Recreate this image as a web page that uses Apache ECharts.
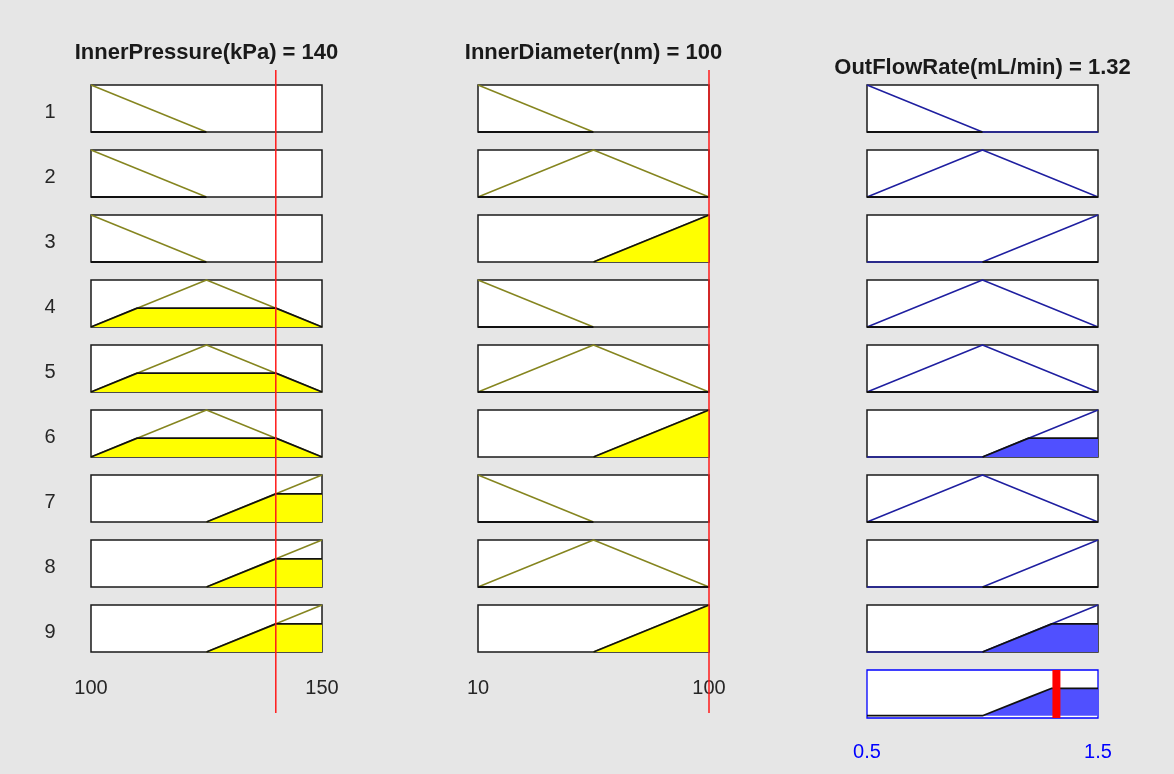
<!DOCTYPE html>
<html>
<head>
<meta charset="utf-8">
<script src="https://cdn.jsdelivr.net/npm/echarts@6/dist/echarts.min.js"></script>
<style>
html,body{margin:0;padding:0;background:#e6e6e6;}
#chart{width:1174px;height:774px;}
</style>
</head>
<body>
<div id="chart"></div>
<script>
// ---------- DATA ----------
const varNames = ['InnerPressure(kPa)', 'InnerDiameter(nm)', 'OutFlowRate(mL/min)'];
const pressureRange = [100, 150];
const diameterRange = [10, 100];
const flowRange = [0.5, 1.5];
// triangular membership functions [a, b, c] : Low, Medium, High
const pressureMF = [[75, 100, 125], [100, 125, 150], [125, 150, 175]];
const diameterMF = [[-35, 10, 55], [10, 55, 100], [55, 100, 145]];
const flowMF = [[0, 0.5, 1], [0.5, 1, 1.5], [1, 1.5, 2]];
// rule base (index into MF lists)
const ruleNumbers = [1, 2, 3, 4, 5, 6, 7, 8, 9];
const ruleIn1 = [0, 0, 0, 1, 1, 1, 2, 2, 2];
const ruleIn2 = [0, 1, 2, 0, 1, 2, 0, 1, 2];
const ruleOut = [0, 1, 2, 1, 1, 2, 1, 2, 2];
// degrees
const in1Degree = [0, 0, 0, 0.4, 0.4, 0.4, 0.6, 0.6, 0.6];
const in2Degree = [0, 0, 1, 0, 0, 1, 0, 0, 1];
const ruleStrength = [0, 0, 0, 0, 0, 0.4, 0, 0, 0.6];
const inputValues = [140, 100];
const outputValue = 1.32;
const tickValues = [[100, 150], [10, 100], [0.5, 1.5]];

// ---------- LAYOUT / STYLE ----------
const colLeft = [91, 478, 867];
const colW = 231;
const rowTop0 = 85, rowStep = 65, boxH = 47;
const FONT = 'Liberation Sans, Arial, Helvetica, sans-serif';
const inLineColor = '#85851f';
const outLineColor = '#1f1fa0';
const inFill = '#ffff00';
const outFill = '#5050ff';

function tri(x, p) {
  const [a, b, c] = p;
  const l = b === a ? 1 : (x - a) / (b - a);
  const r = c === b ? 1 : (c - x) / (c - b);
  return Math.max(0, Math.min(l, r));
}
function uniqSorted(xs, lo, hi) {
  const s = xs.filter(x => x >= lo - 1e-9 && x <= hi + 1e-9).map(x => Math.round(x * 1e6) / 1e6);
  return Array.from(new Set(s)).sort((a, b) => a - b);
}
function mfLine(p, range, full) {
  const lo = full ? range[0] : Math.max(range[0], p[0]);
  const hi = full ? range[1] : Math.min(range[1], p[2]);
  return uniqSorted([range[0], range[1], p[0], p[1], p[2]], lo, hi).map(x => [x, tri(x, p)]);
}
function clipped(p, range, d) {
  const lo = Math.max(range[0], p[0]);
  const hi = Math.min(range[1], p[2]);
  const xs = uniqSorted([lo, hi, p[1], p[0] + d * (p[1] - p[0]), p[2] - d * (p[2] - p[1])], lo, hi);
  return xs.map(x => [x, Math.min(tri(x, p), d)]);
}
function aggregate() {
  let xs = [flowRange[0], flowRange[1]];
  ruleOut.forEach((o, i) => {
    const p = flowMF[o], d = ruleStrength[i];
    xs.push(p[0], p[1], p[2], p[0] + d * (p[1] - p[0]), p[2] - d * (p[2] - p[1]));
  });
  xs = uniqSorted(xs, flowRange[0], flowRange[1]);
  return xs.map(x => [x, Math.max(...ruleOut.map((o, i) => Math.min(tri(x, flowMF[o]), ruleStrength[i])))]);
}

const grids = [], xAxes = [], yAxes = [], series = [], titles = [];
const ranges = [pressureRange, diameterRange, flowRange];
const mfs = [pressureMF, diameterMF, flowMF];

function addGrid(g, xa, ya) {
  const idx = grids.length;
  grids.push(g);
  xAxes.push(Object.assign({ type: 'value', gridIndex: idx }, xa));
  yAxes.push(Object.assign({ type: 'value', gridIndex: idx, min: 0, max: 1, show: false }, ya));
  return idx;
}
function hiddenX(range) {
  return { min: range[0], max: range[1], show: false };
}
function labelX(range, ticks, color, margin) {
  return {
    min: range[0], max: range[1], show: true,
    axisLine: { show: false }, axisTick: { show: false }, splitLine: { show: false },
    axisLabel: {
      show: true, customValues: ticks, showMinLabel: true, showMaxLabel: true,
      color: color, fontSize: 20, fontFamily: FONT, margin: margin
    }
  };
}
function lineSeries(idx, data, color, width, fill, z) {
  const s = {
    type: 'line', xAxisIndex: idx, yAxisIndex: idx, data: data,
    symbol: 'none', showSymbol: false, silent: true, animation: false, clip: false,
    lineStyle: { color: color, width: width }, z: z
  };
  if (fill) s.areaStyle = { color: fill, opacity: 1 };
  return s;
}

for (let r = 0; r < 9; r++) {
  const top = rowTop0 + rowStep * r;
  for (let c = 0; c < 3; c++) {
    const isLabelRow = (r === 8 && c < 2);
    const idx = addGrid(
      { left: colLeft[c], top: top, width: colW, height: boxH, show: true,
        backgroundColor: '#ffffff', borderColor: '#1a1a1a', borderWidth: 1.5 },
      isLabelRow ? labelX(ranges[c], tickValues[c], '#262626', 26) : hiddenX(ranges[c]),
      {}
    );
    let mfIdx, deg, lineColor, fillColor;
    if (c === 0) { mfIdx = ruleIn1[r]; deg = in1Degree[r]; lineColor = inLineColor; fillColor = inFill; }
    else if (c === 1) { mfIdx = ruleIn2[r]; deg = in2Degree[r]; lineColor = inLineColor; fillColor = inFill; }
    else { mfIdx = ruleOut[r]; deg = ruleStrength[r]; lineColor = outLineColor; fillColor = outFill; }
    const p = mfs[c][mfIdx];
    series.push(lineSeries(idx, mfLine(p, ranges[c], c === 2), lineColor, 1.5, null, 2));
    series.push(lineSeries(idx, clipped(p, ranges[c], deg), '#111111', 1.8, fillColor, 3));
  }
  titles.push({
    text: String(ruleNumbers[r]), left: 50, top: top + boxH / 2 - 6, textAlign: 'center', padding: 0,
    textStyle: { fontSize: 20, fontWeight: 'normal', color: '#262626', fontFamily: FONT }
  });
}

// aggregated output
const aggTop = rowTop0 + rowStep * 9;
const aggIdx = addGrid(
  { left: colLeft[2], top: aggTop, width: colW, height: 48, show: true,
    backgroundColor: '#ffffff', borderColor: '#0000ff', borderWidth: 1.3 },
  labelX(flowRange, tickValues[2], '#0000ff', 24),
  { min: -0.05, max: 1 }
);
series.push(lineSeries(aggIdx, aggregate(), '#111111', 1.8, outFill, 3));
series.push(lineSeries(aggIdx, [[outputValue, -0.05], [outputValue, 1]], '#ff0000', 8, null, 5));

// input value indicator lines
for (let c = 0; c < 2; c++) {
  const idx = addGrid(
    { left: colLeft[c], top: 70, width: colW, height: 643, show: false },
    hiddenX(ranges[c]), {}
  );
  series.push(lineSeries(idx, [[inputValues[c], 0], [inputValues[c], 1]], '#ff1a1a', 1.5, null, 10));
}

// titles
const titleY = [42, 42, 57];
const titleText = [
  varNames[0] + ' = ' + inputValues[0],
  varNames[1] + ' = ' + inputValues[1],
  varNames[2] + ' = ' + outputValue
];
for (let c = 0; c < 3; c++) {
  titles.push({
    text: titleText[c], left: colLeft[c] + colW / 2, top: titleY[c], textAlign: 'center', padding: 0,
    textStyle: { fontSize: 22, fontWeight: 'bold', color: '#1a1a1a', fontFamily: FONT }
  });
}

const chart = echarts.init(document.getElementById('chart'), null, { renderer: 'canvas' });
chart.setOption({
  backgroundColor: '#e6e6e6',
  animation: false,
  title: titles,
  grid: grids,
  xAxis: xAxes,
  yAxis: yAxes,
  series: series
});
</script>
</body>
</html>
